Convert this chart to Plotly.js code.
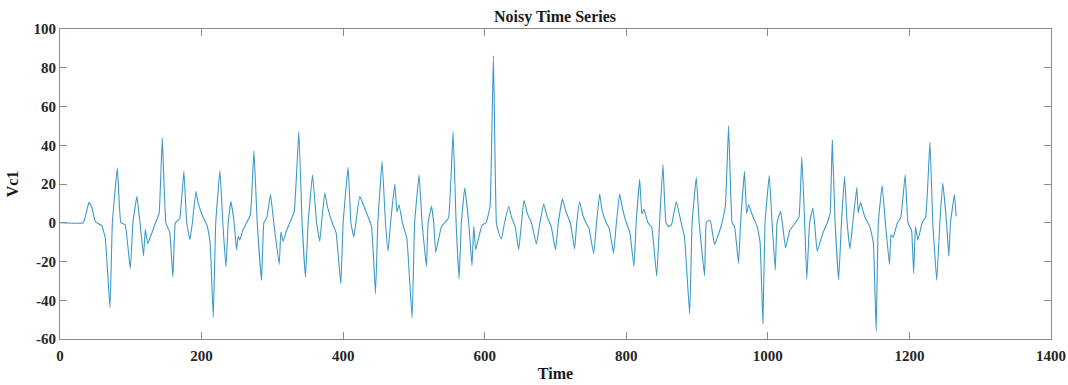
<!DOCTYPE html>
<html>
<head>
<meta charset="utf-8">
<script src="https://cdn.plot.ly/plotly-3.0.1.min.js"></script>
<style>html,body{margin:0;padding:0;background:#fff;}#chart{width:1068px;height:385px;}</style>
</head>
<body>
<div id="chart"></div>
<script>
const time = [
  0,33,37,41,45,50,59,64,70.6,74,
  81,86,92,99.3,103,108.7,113,118,120.5,123.8,
  130,135,140,144.5,149.5,155,159.5,163,169,175,
  179,183.5,187,192,195,202,208,212,216.5,220,
  226,230,234.4,237.6,241.4,246,249.4,251.7,254,258,
  263.6,269,274,278.6,284.7,288,292,297.4,302,309.7,
  312,315.3,320,324.7,331,337.4,342,346.8,350.6,356.8,
  362.5,367,369.5,374,378,384.6,390,396.7,400,407,
  411,415,418,423.5,431,440,445.7,449,455,459.8,
  463.5,467,473,476,479,484,490,497.4,501,507.3,
  511.5,517.7,520,524.8,528,530.8,538.7,543.4,549,555.3,
  559.6,563.8,567,571.8,577.4,582,584.5,587.3,596,602,
  607.5,612.3,616.5,620,623.6,628,634,637.7,643,648,
  652,655.5,660,666,673,678,683.3,688,694,700,
  704,709.7,715,721,727,730,734,738.5,743,747,
  754,758,762.4,765.7,771.7,776,782,786,790.6,794,
  800,805,810.8,814,818.9,822,825,830.6,836,843,
  847,851.8,856,860,864,870.6,877.6,882.3,889.5,893,
  898.9,903,910.6,913,916.7,919,924.7,934,940,944.5,
  949.5,953,958.6,961.5,967,970,972.8,979,985,989,
  993,996,1002,1006,1010.4,1013,1018,1021,1025,1031,
  1039,1044,1048,1052,1055,1059,1063.5,1066,1069.7,1078,
  1084,1088,1091,1095,1100,1104,1108.3,1112,1116,1120,
  1125.7,1127.6,1130.9,1137,1144,1149,1153,1156,1161.5,1166,
  1171.8,1174,1177,1183,1188,1194,1198,1203,1206,1208.5,
  1211.8,1218,1223,1229,1233,1238.6,1243,1247,1252.5,1255.6,
  1258,1263.6,1266
];
const vc1 = [
  0,0,5,10.5,8,0.5,-1.5,-8,-44,0,
  28.3,0,-1,-23.8,0,13.6,0,-17,-3.2,-10.8,
  -5,0,4.8,43.8,0,-5,-28,0,2,26.5,
  0,-8.7,0,16.2,10.5,3,-1.5,-10,-48.8,0,
  27,0,-22.8,0,11,0,-13.9,-7,-9,-4,
  0,4,37.2,0,-29.7,0,2.5,14.5,0,-21.6,
  -4.8,-9.6,-4,0,6,47.2,0,-28,0,24.8,
  0,-9.6,0,15.4,8.1,0,-5,-31.6,0,28.6,
  0,-7.3,0,13.6,7,-1.7,-36.6,0,31.7,0,
  -14.7,0,20,5.5,9.3,-0.5,-8,-49.2,0,24.8,
  0,-22.5,0,8.5,0,-15.3,-2,0,2.6,47.2,
  0,-29,0,18,0,-22.2,-1.8,-13.9,-1.4,0,
  8.5,86.2,0,-5.5,-8.4,0,8.5,3,-2,-13.9,
  0,11.6,5,0,-11,0,9.8,3.3,-2,-13.9,
  0,12.3,5.4,0,-13.5,0,11,4,0,-2.5,
  -16,0,15,6.5,0,-3,-15.6,0,15,8.5,
  0,-5,-22.5,0,22.6,4.6,7,0,-2.4,-27.6,
  0,30,0,-2,-1,11,0,-7.6,-47,0,
  23.6,0,-27.3,0,1.3,0.8,-11.3,-1.8,8.5,50.1,
  0,-2,-20.8,0,26.5,4.8,9.3,3,-2,-10,
  -52,0,24.3,0,-24.5,0,5.9,-1.5,-13,-4,
  0,3,34,0,-29,0,7.6,0,-14.7,-5,
  0,5,42.5,0,-29.4,0,24,0,-13.5,0,
  18.3,5,10.5,3,-2,-10,-56,0,19.2,0,
  -21.6,-6.4,-7.5,0,3,24.8,0,-4,-26,-1.8,
  -9,0,3,41.5,0,-29.7,0,20.5,0,-17.3,
  0,14.5,3.3
];
const xTicks = [0,200,400,600,800,1000,1200,1400];
const yTicks = [-60,-40,-20,0,20,40,60,80,100];

const fontFam = '"Liberation Serif", "Times New Roman", serif';
const axisCommon = {
  showline: true, linecolor: '#8a8a8a', linewidth: 1, mirror: 'ticks',
  ticks: 'inside', ticklen: 7, tickcolor: '#8a8a8a', tickwidth: 1,
  showgrid: false, zeroline: false,
  tickfont: {family: fontFam, size: 15, color: '#262626', weight: 'bold'}
};
const layout = {
  width: 1068, height: 385,
  margin: {l: 60, r: 17, t: 29, b: 46},
  paper_bgcolor: '#fff', plot_bgcolor: '#fff',
  showlegend: false,
  title: {text: 'Noisy Time Series', font: {family: fontFam, size: 16, color: '#1a1a1a', weight: 'bold'},
          x: 555/1068, xanchor: 'center', xref: 'container', y: 1 - 16/385, yanchor: 'middle', yref: 'container'},
  xaxis: Object.assign({}, axisCommon, {
    range: [0, 1400], tickvals: xTicks, ticktext: xTicks.map(String),
    ticklabelstandoff: 3,
    title: {text: 'Time', font: {family: fontFam, size: 16, color: '#1a1a1a', weight: 'bold'}, standoff: 4}
  }),
  yaxis: Object.assign({}, axisCommon, {
    range: [-60, 100], tickvals: yTicks, ticktext: yTicks.map(String),
    title: {text: 'Vc1', font: {family: fontFam, size: 16, color: '#1a1a1a', weight: 'bold'}, standoff: 10}
  })
};
const trace = {
  x: time, y: vc1, type: 'scatter', mode: 'lines',
  line: {color: '#3c9ac8', width: 1.1, shape: 'spline', smoothing: 0.3}
};
Plotly.newPlot('chart', [trace], layout, {displayModeBar: false, staticPlot: true});
</script>
</body>
</html>
